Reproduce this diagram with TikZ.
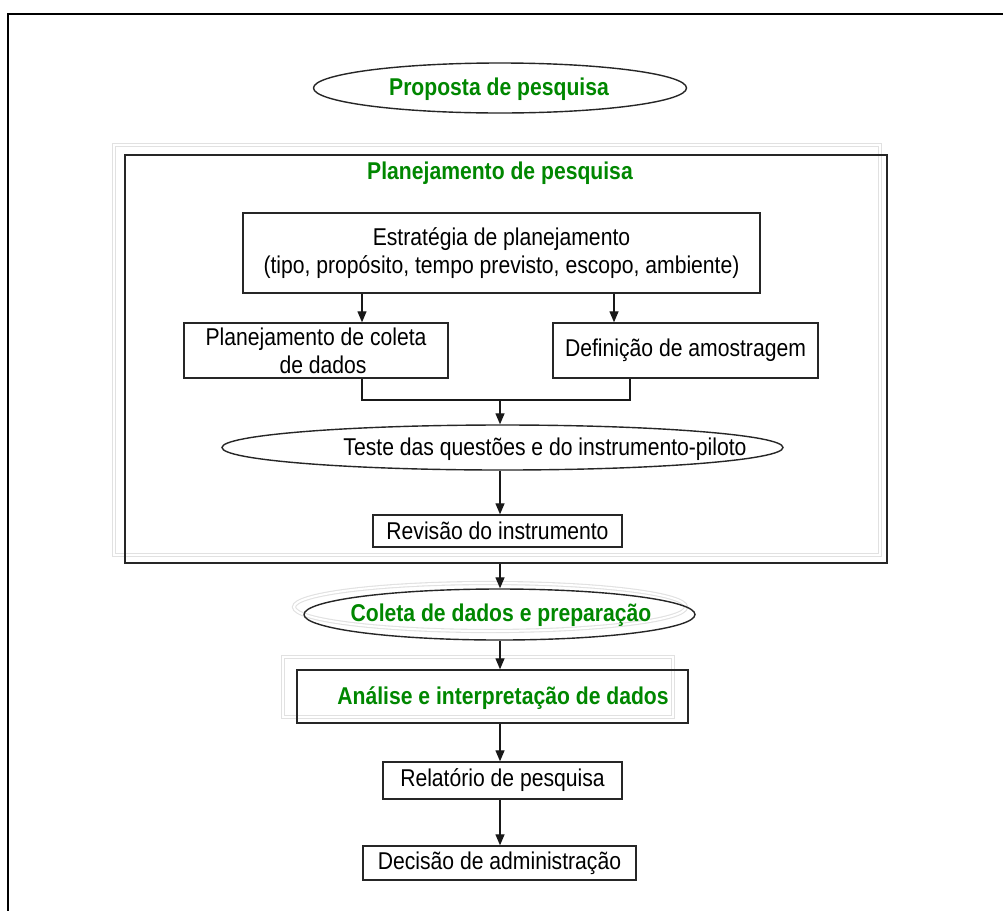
\documentclass[tikz,border=0pt]{standalone}
\usepackage{fontspec}
\setmainfont{Liberation Sans}[FakeStretch=0.87]
\usetikzlibrary{shapes.geometric,arrows.meta}
\definecolor{titlegreen}{RGB}{0,135,0}
\definecolor{ghostgray}{RGB}{225,225,225}
\begin{document}
\begin{tikzpicture}[x=1pt,y=-1pt,
  txt/.style={font=\fontsize{24.3}{28}\selectfont, align=center, inner sep=0pt},
  ttl/.style={txt, font=\fontsize{24.3}{28}\selectfont\bfseries, text=titlegreen},
  stepbox/.style={rectangle, draw=black!85, line width=1.4pt, fill=white, inner sep=0pt},
  oval/.style={ellipse, draw=black!85, line width=1.4pt, fill=white, inner sep=0pt},
  ghost/.style={draw=ghostgray, line width=1.1pt, double=white, double distance=2pt},
  arr/.style={-{Triangle[length=11pt,width=9pt]}, line width=1.3pt, black!90},
  link/.style={line width=1.3pt, black!90}]
\useasboundingbox (0,0) rectangle (1003,911);
\fill[white] (0,0) rectangle (1003,911);

% page frame
\draw[line width=2.6pt] (8,45) -- (8,14) -- (1003,14);
\draw[line width=1.2pt] (8,45) -- (8,911);
\draw[line width=2.6pt] (8,904) -- (8,911);

% vertical guides
\coordinate (ax) at (500,0);
\coordinate (xl) at (362,0);
\coordinate (xr) at (614,0);
\coordinate (xm) at (630,0);
\coordinate (mrg) at (500,400);

% research proposal
\node[oval, minimum width=373pt, minimum height=50pt] (prop) at (500,88) {};
\node[ttl] (propt) at (499,89) {Proposta de pesquisa};

% planning frame
\draw[ghost] (114,145) rectangle (880,555);
\node[stepbox, fill=none, minimum width=762pt, minimum height=408pt] (plan) at (506,359) {};
\node[ttl] (plant) at (500,173) {Planejamento de pesquisa};

\node[stepbox, txt, minimum width=517pt, minimum height=80pt] (estr) at (501.5,253)
  {Estratégia de planejamento\\(tipo, propósito, tempo previsto, escopo, ambiente)};
\node[stepbox, txt, minimum width=264pt, minimum height=55pt] (pcol) at (316,350.5)
  {Planejamento de coleta\\\hspace*{14pt}de dados};
\node[stepbox, txt, minimum width=265pt, minimum height=55pt] (defa) at (685.5,350.5)
  {Definição de amostragem};
\node[oval, minimum width=561pt, minimum height=45pt] (teste) at (502.5,447.5) {};
\node[txt] (testet) at (545,449) {Teste das questões e do instrumento-piloto};
\node[stepbox, txt, minimum width=249pt, minimum height=32pt] (rev) at (497.5,531)
  {Revisão do instrumento};

% later stages
\draw[ghost] (490,607) ellipse [x radius=196pt, y radius=24pt];
\node[oval, fill=none, minimum width=391pt, minimum height=51pt] (col) at (499.5,614.5) {};
\node[ttl] (colt) at (501,615) {Coleta de dados e preparação};

\draw[ghost] (283,657) rectangle (673,717);
\node[stepbox, fill=none, minimum width=391pt, minimum height=53pt] (anal) at (492.5,696.5) {};
\node[ttl] (analt) at (503,698) {Análise e interpretação de dados};

\node[stepbox, txt, minimum width=239pt, minimum height=37pt] (rel) at (502.5,780.5)
  {Relatório de pesquisa};
\node[stepbox, txt, minimum width=273pt, minimum height=34pt] (dec) at (499.5,863)
  {Decisão de administração};

% connectors
\draw[arr] (estr.south -| xl) -- (pcol.north -| xl);
\draw[arr] (estr.south -| xr) -- (defa.north -| xr);
\draw[link] (pcol.south -| xl) -- (xl |- mrg) -- (xm |- mrg) -- (defa.south -| xm);
\draw[arr] (mrg) -- (teste.north -| mrg);
\draw[arr] (teste.south -| ax) -- (rev.north -| ax);
\draw[arr] (plan.south -| ax) -- (col.north -| ax);
\draw[arr] (col.south -| ax) -- (anal.north -| ax);
\draw[arr] (anal.south -| ax) -- (rel.north -| ax);
\draw[arr] (rel.south -| ax) -- (dec.north -| ax);
\end{tikzpicture}
\end{document}
